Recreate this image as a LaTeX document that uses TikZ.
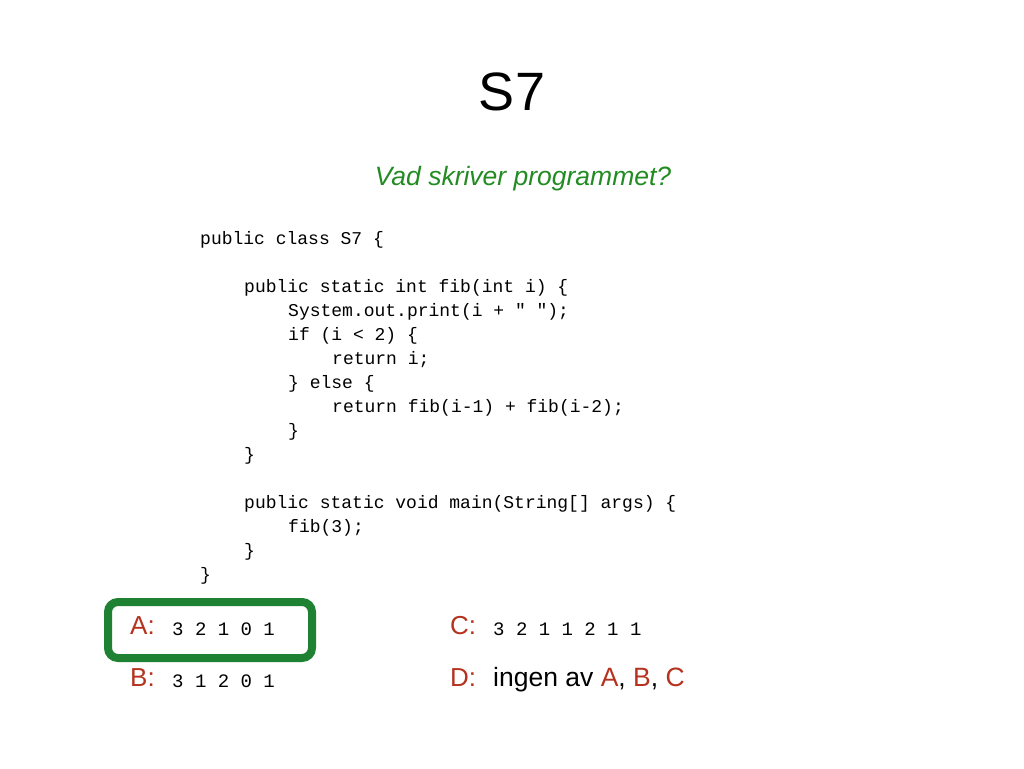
\documentclass[tikz,border=0pt]{standalone}
\usepackage{fontspec}
\setmainfont{Liberation Sans}
\newfontfamily\codefont{Liberation Mono}
\definecolor{qgreen}{RGB}{34,139,34}
\definecolor{boxgreen}{RGB}{30,130,50}
\definecolor{lbl}{RGB}{180,50,30}
\begin{document}
\begin{tikzpicture}[x=1pt,y=-1pt,
  code/.style={anchor=base west,inner sep=0,font=\codefont\fontsize{18}{24}\selectfont},
  opt/.style={anchor=base west,inner sep=0,font=\fontsize{26}{30}\selectfont,text=lbl},
  ans/.style={anchor=base west,inner sep=0,font=\codefont\fontsize{19}{24}\selectfont}]
\useasboundingbox (0,0) rectangle (1024,768);
\node[anchor=base,inner sep=0,font=\fontsize{54}{60}\selectfont] (title) at (512,110) {S7};
\node[anchor=base,inner sep=0,font=\itshape\fontsize{26.5}{30}\selectfont,text=qgreen] (q) at (523,185) {Vad skriver programmet?};
\foreach \t/\x/\y [count=\i] in {
 {public class S7 \{}/200/244,
 {public static int fib(int i) \{}/244/292,
 {System.out.print(i + " ");}/288/316,
 {if (i < 2) \{}/288/340,
 {return i;}/332/364,
 {\} else \{}/288/388,
 {return fib(i-1) + fib(i-2);}/332/412,
 {\}}/288/436,
 {\}}/244/460,
 {public static void main(String[] args) \{}/244/508,
 {fib(3);}/288/532,
 {\}}/244/556,
 {\}}/200/580}
 \node[code] (c\i) at (\x,\y) {\t};
\draw[boxgreen,line width=8pt,rounded corners=10pt] (108,602) rectangle (312,658);
\node[opt] (a) at (130,634) {A:};
\node[ans] (av) at (172,635) {3 2 1 0 1};
\node[opt] (b) at (130,686) {B:};
\node[ans] (bv) at (172,687) {3 1 2 0 1};
\node[opt] (c) at (450,634) {C:};
\node[ans] (cv) at (493,635) {3 2 1 1 2 1 1};
\node[opt] (d) at (450,686) {D:};
\node[anchor=base west,inner sep=0,font=\fontsize{26.5}{30}\selectfont] (dv) at (493,686) {ingen av \textcolor{lbl}{A}, \textcolor{lbl}{B}, \textcolor{lbl}{C}};
\end{tikzpicture}
\end{document}
